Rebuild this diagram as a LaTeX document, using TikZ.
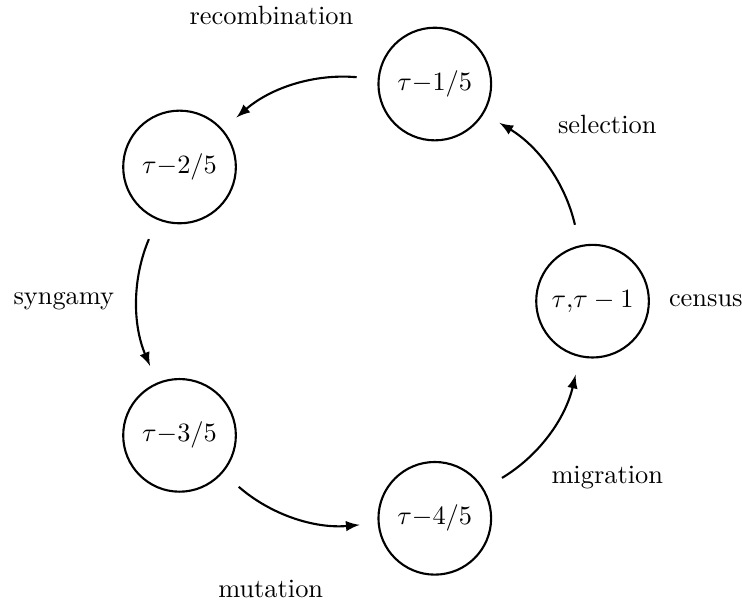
\documentclass[tikz,border=0pt]{standalone}
\usetikzlibrary{positioning}
\begin{document}
\begin{tikzpicture}
   [stage/.style={circle,draw,thick,minimum size=1.5cm},
    flow/.style={-latex,thick,shorten <=0.28cm,shorten >=0.24cm}]
   \useasboundingbox (-4.85,-4.03) rectangle (5.03,4.01);
   \node[stage] (t0) at (0:3.04) {$\tau{,}\tau-1$};
   \node[stage] (t1) at (72:3.04) {$\tau{-}1/5$};
   \node[stage] (t2) at (144:3.04) {$\tau{-}2/5$};
   \node[stage] (t3) at (216:3.04) {$\tau{-}3/5$};
   \node[stage] (t4) at (288:3.04) {$\tau{-}4/5$};

   \node[right=1.3mm of t0] (census) {census};
   \node (selection) at (36:4) {selection};
   \node (recomb) at (108:4) {recombination};
   \node (syngamy) at (180:4) {syngamy};
   \node (mutation) at (252:4.03) {mutation};
   \node (migration) at (324:4) {migration};

   \draw[flow] (t0) to[bend right=23] (t1);
   \draw[flow] (t1) to[bend right=23] (t2);
   \draw[flow] (t2) to[bend right=23] (t3);
   \draw[flow] (t3) to[bend right=23] (t4);
   \draw[flow] (t4) to[bend right=23] (t0);
\end{tikzpicture}
\end{document}
